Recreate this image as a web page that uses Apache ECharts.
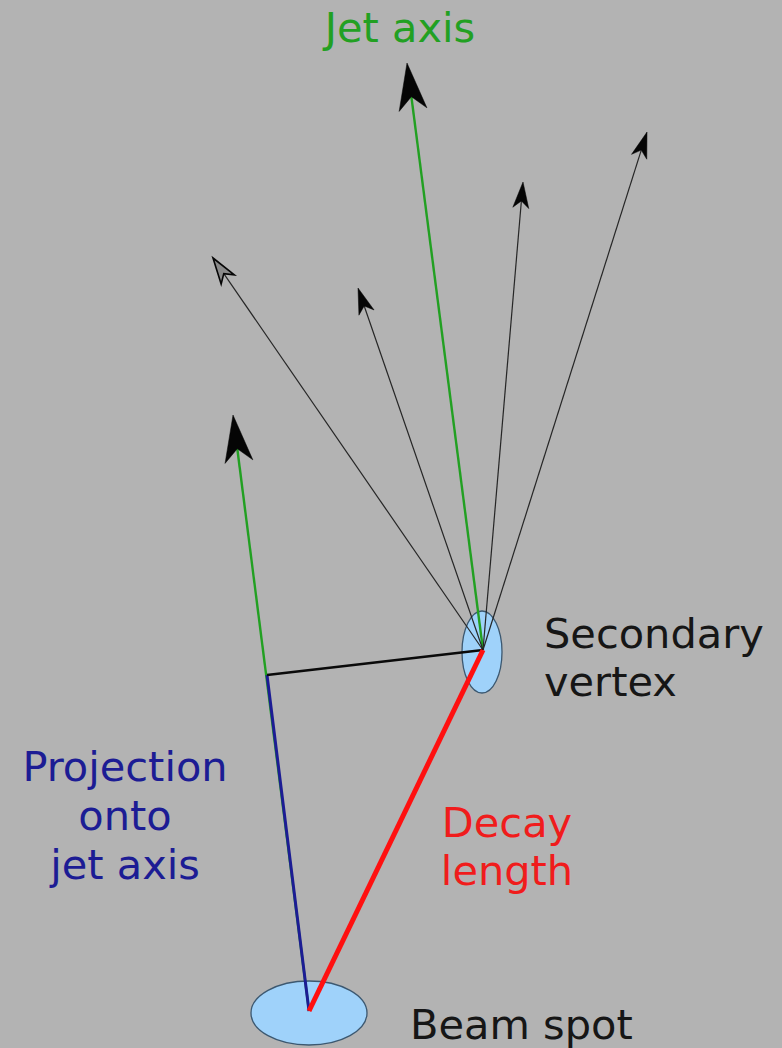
<!DOCTYPE html>
<html><head><meta charset="utf-8">
<script src="https://cdn.jsdelivr.net/npm/echarts@6/dist/echarts.min.js"></script>
<style>html,body{margin:0;padding:0;background:#b3b3b3;}#c{width:782px;height:1048px;}</style>
</head><body><div id="c"></div>
<script>
// ---- data (diagram coordinates) ----
const beamSpot = [309, 1011];
const secondaryVertex = [483, 650];
const projectionFoot = [267, 675];
const jetAxisTip = [407, 63];
const parallelAxisTip = [233, 415];
const trackTips = [[213, 258], [358, 288], [523, 182], [647, 132]];
const beamSpotCenter = [309, 1013];
const beamSpotRadii = [58, 32];
const vertexCenter = [482, 652];
const vertexRadii = [20, 41];
const labelTexts = ['Jet axis', 'Secondary\nvertex', 'Projection\nonto\njet axis', 'Decay\nlength', 'Beam spot'];

// ---- layout / style ----
const GREEN = '#22a022', BLUE = '#1c1c94', RED = '#f01c1c', INK = '#161616';
const labelLayout = [
  { at: [400, 6], align: 'center', color: GREEN, lh: 42 },
  { at: [544, 609], align: 'left', color: INK, lh: 48.5 },
  { at: [125, 741.5], align: 'center', color: BLUE, lh: 49 },
  { at: [507, 798], align: 'center', color: RED, lh: 48.5 },
  { at: [410, 1003], align: 'left', color: INK, lh: 42 }
];
const FONT = '41.5px "DejaVu Sans", sans-serif';

function arrowRenderer(o) {
  return function (params, api) {
    const a = api.coord([api.value(0), api.value(1)]);
    const b = api.coord([api.value(2), api.value(3)]);
    const dx = b[0] - a[0], dy = b[1] - a[1], len = Math.hypot(dx, dy);
    const ux = dx / len, uy = dy / len, nx = -uy, ny = ux;
    const base = [b[0] - ux * o.L, b[1] - uy * o.L];
    const notch = [b[0] - ux * o.I, b[1] - uy * o.I];
    const hollow = o.hollow && o.hollow[params.dataIndex];
    return {
      type: 'group',
      children: [
        { type: 'line', shape: { x1: a[0], y1: a[1], x2: notch[0], y2: notch[1] },
          style: { stroke: o.color, lineWidth: o.lw } },
        { type: 'polygon',
          shape: { points: [b, [base[0] + nx * o.W, base[1] + ny * o.W], notch, [base[0] - nx * o.W, base[1] - ny * o.W]] },
          style: { fill: hollow ? '#8a8a8a' : '#050505', stroke: '#050505', lineWidth: hollow ? 1.6 : 0.5 } }
      ]
    };
  };
}

function ellipseRenderer(params, api) {
  const c = api.coord([api.value(0), api.value(1)]);
  const s = api.size([api.value(2), api.value(3)]);
  return { type: 'ellipse', shape: { cx: c[0], cy: c[1], rx: Math.abs(s[0]), ry: Math.abs(s[1]) },
    style: { fill: '#9fd2fa', stroke: '#3c5870', lineWidth: 1.3 } };
}

function textRenderer(params, api) {
  const L = labelLayout[params.dataIndex];
  const p = api.coord(L.at);
  return { type: 'text', x: p[0], y: p[1],
    style: { text: labelTexts[params.dataIndex], fill: L.color, font: FONT, lineHeight: L.lh,
      align: L.align, verticalAlign: 'top' } };
}

const segment = (from, to, color, width, z) => ({
  type: 'line', data: [from, to], showSymbol: false, symbol: 'none', silent: true, z: z,
  lineStyle: { color: color, width: width, cap: 'butt' }, animation: false
});

const option = {
  backgroundColor: '#b3b3b3',
  animation: false,
  grid: { left: 0, right: 0, top: 0, bottom: 0 },
  xAxis: { type: 'value', min: 0, max: 782, show: false },
  yAxis: { type: 'value', min: 0, max: 1048, inverse: true, show: false },
  series: [
    { type: 'custom', z: 1, clip: false, renderItem: ellipseRenderer,
      encode: { x: 0, y: 1 },
      data: [[beamSpotCenter[0], beamSpotCenter[1], beamSpotRadii[0], beamSpotRadii[1]],
             [vertexCenter[0], vertexCenter[1], vertexRadii[0], vertexRadii[1]]] },
    { type: 'custom', z: 2, clip: false,
      renderItem: arrowRenderer({ color: GREEN, lw: 2.4, L: 47, W: 14, I: 34 }),
      encode: { x: [0, 2], y: [1, 3] },
      data: [[secondaryVertex[0], secondaryVertex[1], jetAxisTip[0], jetAxisTip[1]],
             [beamSpot[0], beamSpot[1], parallelAxisTip[0], parallelAxisTip[1]]] },
    { type: 'custom', z: 3, clip: false,
      renderItem: arrowRenderer({ color: '#262626', lw: 1.2, L: 26, W: 8, I: 19, hollow: [true, false, false, false] }),
      encode: { x: [0, 2], y: [1, 3] },
      data: trackTips.map(t => [secondaryVertex[0], secondaryVertex[1], t[0], t[1]]) },
    segment(beamSpot, projectionFoot, BLUE, 3, 4),
    segment(projectionFoot, secondaryVertex, '#0a0a0a', 2.5, 5),
    segment(beamSpot, secondaryVertex, '#ff1010', 5, 6),
    { type: 'custom', z: 7, clip: false, renderItem: textRenderer,
      encode: { x: 0, y: 1 },
      data: labelTexts.map((t, i) => [i, i]) }
  ]
};
const chart = echarts.init(document.getElementById('c'), null, { renderer: 'svg' });
chart.setOption(option);
</script></body></html>
